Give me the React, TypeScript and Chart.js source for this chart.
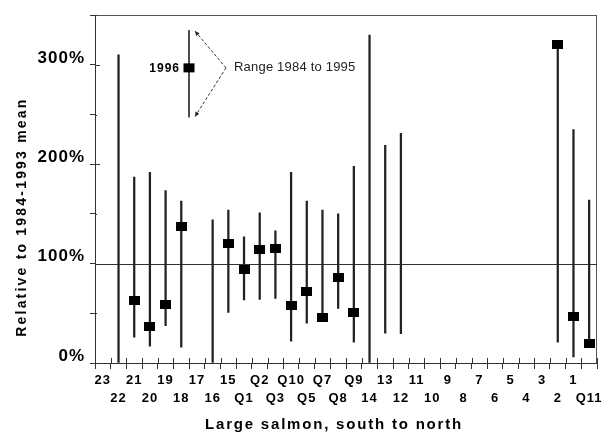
import React, { useEffect, useRef } from 'react';
import { Chart, registerables } from 'chart.js';

Chart.register(...registerables);

// ---- data ----
const categories = [
  '23', '22', '21', '20', '19', '18', '17', '16', '15', 'Q1', 'Q2', 'Q3', 'Q10', 'Q5', 'Q7', 'Q8',
  'Q9', '14', '13', '12', '11', '10', '9', '8', '7', '6', '5', '4', '3', '2', '1', 'Q11',
];
// range 1984-1995 (low / high), % of 1984-1993 mean
const rangeLow: (number | null)[] = [
  null, 0, 26, 17, 37.5, 16, null, 0, 51, 63.5, 64, 65, 22, 40, 46, 55,
  21, 0, 30, 29.5, null, null, null, null, null, null, null, null, null, 21, 6, 19.5,
];
const rangeHigh: (number | null)[] = [
  null, 310, 187, 192, 173.5, 163, null, 144, 154, 127, 151, 133, 192, 163, 154, 150,
  198, 330, 219, 231, null, null, null, null, null, null, null, null, null, 321, 235, 164,
];
// 1996 value
const value1996: (number | null)[] = [
  null, null, 62.5, 37, 59, 137, null, null, 120.5, 94.5, 114.5, 115, 57.5, 72, 46, 86.5,
  51, null, null, null, null, null, null, null, null, null, null, null, null, 321, 47, 19.5,
];
const yMin = 0;
const yMax = 350;
const yStep = 50;
const yLabelStep = 100;
const referenceLevel = 100;
// legend sample (in data units)
const legendRange = [247, 335];
const legendValue = 297;
const legendYearLabel = '1996';
const legendRangeLabel = 'Range 1984 to 1995';
const yTitle = 'Relative to 1984-1993 mean';
const xTitle = 'Large salmon, south to north';

const FONT = "'Liberation Sans', Arial, Helvetica, sans-serif";

function makeMarker(): HTMLCanvasElement {
  const c = document.createElement('canvas');
  c.width = 11;
  c.height = 9;
  const g = c.getContext('2d')!;
  g.fillStyle = '#000';
  g.fillRect(0, 0, 11, 9);
  return c;
}

const decorPlugin = {
  id: 'decor',
  beforeDraw(chart: any) {
    chart.ctx.letterSpacing = '1px';
  },
  beforeDatasetsDraw(chart: any) {
    const { ctx, chartArea: a, scales } = chart;
    const ys = scales.y;
    const xs = scales.x;
    ctx.save();
    ctx.letterSpacing = '0px';
    // frame top & right
    ctx.strokeStyle = '#555';
    ctx.lineWidth = 1;
    ctx.beginPath();
    ctx.moveTo(a.left, Math.round(a.top) + 0.5);
    ctx.lineTo(a.right, Math.round(a.top) + 0.5);
    ctx.moveTo(Math.round(a.right) - 0.5, a.top);
    ctx.lineTo(Math.round(a.right) - 0.5, a.bottom);
    ctx.stroke();
    // reference line at 100%
    const yr = Math.round(ys.getPixelForValue(referenceLevel)) + 0.5;
    ctx.strokeStyle = '#333';
    ctx.beginPath();
    ctx.moveTo(a.left, yr);
    ctx.lineTo(a.right, yr);
    ctx.stroke();
    // inner tick stubs
    ctx.strokeStyle = '#333';
    ctx.beginPath();
    for (let v = yMin; v <= yMax; v += yStep) {
      const py = Math.round(ys.getPixelForValue(v)) + 0.5;
      const len = v % yLabelStep === 0 ? 5 : 2;
      ctx.moveTo(a.left, py);
      ctx.lineTo(a.left + len, py);
    }
    const half = (xs.getPixelForValue(1) - xs.getPixelForValue(0)) / 2;
    for (let i = 0; i <= categories.length; i++) {
      const px = i === categories.length
        ? xs.getPixelForValue(i - 1) + half
        : xs.getPixelForValue(i) - half;
      const x = Math.round(px) + 0.5;
      ctx.moveTo(x, a.bottom);
      ctx.lineTo(x, a.bottom - 5);
    }
    ctx.stroke();
    ctx.restore();
  },
  afterDatasetsDraw(chart: any) {
    const { ctx, scales } = chart;
    const ys = scales.y;
    const xs = scales.x;
    const lx = Math.round((xs.getPixelForValue(5) + xs.getPixelForValue(6)) / 2);
    const yTop = ys.getPixelForValue(legendRange[1]);
    const yBot = ys.getPixelForValue(legendRange[0]);
    const yVal = ys.getPixelForValue(legendValue);
    ctx.save();
    ctx.letterSpacing = '0px';
    ctx.strokeStyle = '#222';
    ctx.lineWidth = 1.6;
    ctx.beginPath();
    ctx.moveTo(lx, yTop);
    ctx.lineTo(lx, yBot);
    ctx.stroke();
    ctx.fillStyle = '#000';
    ctx.fillRect(lx - 5.5, yVal - 4.5, 11, 9);
    // label 1996
    ctx.font = `bold 12px ${FONT}`;
    ctx.letterSpacing = '1px';
    ctx.textAlign = 'right';
    ctx.textBaseline = 'middle';
    ctx.fillStyle = '#000';
    ctx.fillText(legendYearLabel, lx - 9, yVal + 1);
    // dashed arrows
    const vx = lx + 37;
    const tips = [
      [lx + 6, yTop + 1],
      [lx + 6, yBot - 1],
    ];
    ctx.letterSpacing = '0px';
    ctx.strokeStyle = '#333';
    ctx.lineWidth = 1;
    ctx.setLineDash([3, 2]);
    ctx.beginPath();
    for (const [tx, ty] of tips) {
      ctx.moveTo(vx, yVal);
      ctx.lineTo(tx, ty);
    }
    ctx.stroke();
    ctx.setLineDash([]);
    for (const [tx, ty] of tips) {
      const ang = Math.atan2(ty - yVal, tx - vx);
      const s = 5;
      ctx.beginPath();
      ctx.moveTo(tx, ty);
      ctx.lineTo(tx - s * Math.cos(ang - 0.45), ty - s * Math.sin(ang - 0.45));
      ctx.lineTo(tx - s * Math.cos(ang + 0.45), ty - s * Math.sin(ang + 0.45));
      ctx.closePath();
      ctx.fillStyle = '#222';
      ctx.fill();
    }
    ctx.font = `13px ${FONT}`;
    ctx.letterSpacing = '0.2px';
    ctx.textAlign = 'left';
    ctx.textBaseline = 'middle';
    ctx.fillStyle = '#222';
    ctx.fillText(legendRangeLabel, lx + 45, yVal);
    ctx.restore();
  },
  afterDraw(chart: any) {
    const { ctx, chartArea: a } = chart;
    ctx.save();
    ctx.fillStyle = '#000';
    ctx.textAlign = 'center';
    ctx.textBaseline = 'middle';
    // y title
    ctx.font = `bold 14px ${FONT}`;
    ctx.letterSpacing = '2.2px';
    ctx.translate(a.left - 73, (a.top + a.bottom) / 2 + 28);
    ctx.rotate(-Math.PI / 2);
    ctx.fillText(yTitle, 0, 0);
    ctx.restore();
    ctx.save();
    ctx.fillStyle = '#000';
    ctx.textAlign = 'center';
    ctx.textBaseline = 'middle';
    ctx.font = `bold 15px ${FONT}`;
    ctx.letterSpacing = '1.8px';
    ctx.fillText(xTitle, (a.left + a.right) / 2 - 12, a.bottom + 62);
    ctx.restore();
    chart.ctx.letterSpacing = '0px';
  },
};

export default function App() {
  const ref = useRef<HTMLCanvasElement | null>(null);
  useEffect(() => {
    document.body.style.margin = '0';
    const canvas = ref.current!;
    const marker = makeMarker();
    const ranges = categories.map((_, i) =>
      rangeLow[i] == null || rangeHigh[i] == null ? null : [rangeLow[i], rangeHigh[i]]
    );
    const chart = new Chart(canvas, {
      type: 'bar',
      data: {
        labels: categories,
        datasets: [
          {
            type: 'line',
            label: '1996',
            data: value1996 as any,
            showLine: false,
            pointStyle: marker as any,
            pointRadius: 5,
            order: 0,
          } as any,
          {
            type: 'bar',
            label: 'Range 1984 to 1995',
            data: ranges as any,
            backgroundColor: '#222',
            barThickness: 1.6,
            borderWidth: 0,
            order: 1,
          } as any,
        ],
      },
      options: {
        animation: false,
        responsive: false,
        events: [],
        layout: { padding: { left: 0, top: 10, right: 17, bottom: 0 } },
        plugins: {
          legend: { display: false },
          tooltip: { enabled: false },
        },
        scales: {
          x: {
            type: 'category',
            offset: true,
            grid: {
              offset: true,
              drawOnChartArea: false,
              drawTicks: true,
              tickLength: 6,
              color: '#333',
            },
            border: { display: true, color: '#333', width: 1 },
            ticks: {
              autoSkip: false,
              maxRotation: 0,
              minRotation: 0,
              padding: 3,
              color: '#000',
              font: { family: FONT, size: 13, weight: 'bold', lineHeight: 1.35 },
              callback: (_v: any, i: number) => (i % 2 === 0 ? categories[i] : ['', categories[i]]),
            },
            afterFit: (s: any) => {
              s.height = 73;
            },
          },
          y: {
            min: yMin,
            max: yMax,
            grid: {
              drawOnChartArea: false,
              drawTicks: true,
              tickLength: 5,
              color: '#333',
            },
            border: { display: true, color: '#333', width: 1 },
            ticks: {
              stepSize: yStep,
              padding: 5,
              labelOffset: -7,
              color: '#000',
              font: { family: FONT, size: 17, weight: 'bold' },
              callback: (v: any) => (Number(v) % yLabelStep === 0 ? `${v}%` : ''),
            },
            afterFit: (s: any) => {
              s.width = 95;
            },
          },
        },
      } as any,
      plugins: [decorPlugin],
    });
    return () => chart.destroy();
  }, []);
  return (
    <div style={{ position: 'fixed', left: 0, top: 0, width: 614, height: 436, background: '#fff' }}>
      <canvas ref={ref} width={614} height={436} style={{ width: 614, height: 436, display: 'block' }} />
    </div>
  );
}
